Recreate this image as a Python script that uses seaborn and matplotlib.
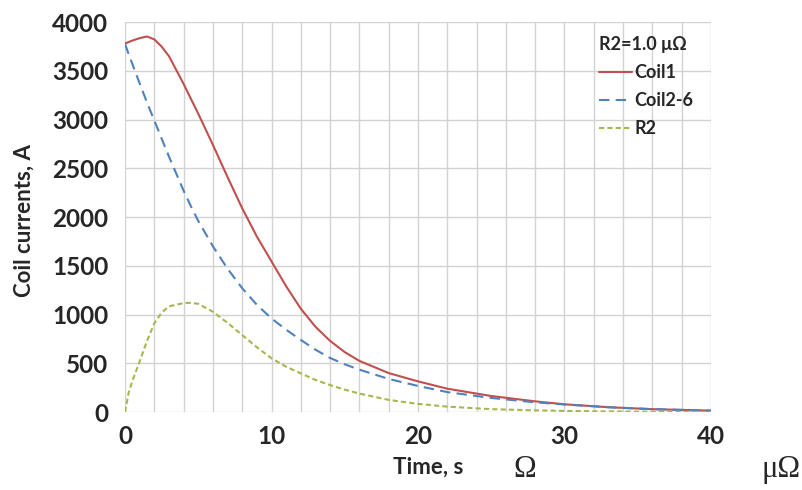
import numpy as np
import pandas as pd
import seaborn as sns
import matplotlib.pyplot as plt
from matplotlib.ticker import MultipleLocator

# values
time_s = [0, 0.25, 0.5, 1, 1.5, 2, 2.5, 3, 4, 4.5, 5, 6, 7, 8, 9, 10,
          11, 12, 13, 14, 15, 16, 18, 20, 22, 25, 28, 30, 33, 36, 40]
coil1 = [3780, 3795, 3810, 3835, 3852, 3822, 3748, 3650, 3365, 3212, 3060, 2740, 2410, 2090, 1800, 1545,
         1290, 1060, 875, 730, 615, 525, 400, 315, 240, 165, 110, 80, 50, 30, 15]
coil2_6 = [3775, 3670, 3570, 3370, 3175, 2990, 2805, 2620, 2270, 2110, 1960, 1700, 1470, 1270, 1100, 960,
           845, 740, 640, 555, 490, 435, 340, 268, 205, 145, 100, 78, 50, 30, 15]
r2 = [0, 200, 320, 520, 730, 910, 1020, 1085, 1118, 1121, 1110, 1029, 915, 790, 665, 551,
      465, 397, 330, 277, 230, 190, 125, 84, 56, 30, 18, 12, 7, 4, 2]

series_names = ['Coil1', 'Coil2-6', 'R2']
x_ticks = [0, 10, 20, 30, 40]
y_ticks = [0, 500, 1000, 1500, 2000, 2500, 3000, 3500, 4000]

sns.set_style('white')
plt.rcParams['font.family'] = ['Lato', 'DejaVu Sans']


def build_frame():
    frames = []
    for name, vals in zip(series_names, [coil1, coil2_6, r2]):
        frames.append(pd.DataFrame({'Time': time_s, 'Current': vals, 'Series': name}))
    return pd.concat(frames, ignore_index=True)


def main():
    data = build_frame()
    fig = plt.figure(figsize=(8.03, 4.9), dpi=100)
    ax = fig.add_axes([0.1557, 0.159, 0.7297, 0.796])

    palette = {'Coil1': '#c0504d', 'Coil2-6': '#4f81bd', 'R2': '#a3b94f'}
    dashes = {'Coil1': '', 'Coil2-6': (5, 3), 'R2': (2.5, 1.5)}
    sns.lineplot(data=data, x='Time', y='Current', hue='Series', style='Series',
                 palette=palette, dashes=dashes, linewidth=1.5, ax=ax)

    ax.set_xlim(0, 40)
    ax.set_ylim(0, 4000)
    ax.set_xticks(x_ticks)
    ax.set_yticks(y_ticks)
    ax.xaxis.set_minor_locator(MultipleLocator(2))
    ax.grid(True, which='both', axis='x', color='#d2d2d2', linewidth=1)
    ax.grid(True, which='major', axis='y', color='#d2d2d2', linewidth=1)
    ax.set_axisbelow(True)
    for s in ax.spines.values():
        s.set_visible(False)
    ax.tick_params(axis='both', which='both', length=0, labelsize=17.5, labelcolor='#262626')
    ax.tick_params(axis='x', pad=9)
    ax.tick_params(axis='y', pad=12)
    for lbl in ax.get_xticklabels() + ax.get_yticklabels():
        lbl.set_fontweight('bold')

    ax.set_xlabel('Time, s', fontsize=16, fontweight='bold', color='#262626')
    ax.set_ylabel('Coil currents, A', fontsize=16, fontweight='bold', color='#262626')
    ax.xaxis.set_label_coords(0.517, -0.115)
    ax.yaxis.set_label_coords(-0.155, 0.49)

    leg = ax.legend(title='R2=1.0 μΩ', loc='upper left', bbox_to_anchor=(0.782, 1.005),
                    frameon=False, fontsize=13, title_fontsize=13, handlelength=1.8,
                    handletextpad=0.15, labelspacing=0.6, alignment='left')
    leg.get_title().set_fontweight('bold')
    leg.get_title().set_color('#262626')
    for t in leg.get_texts():
        t.set_fontweight('bold')
        t.set_color('#262626')

    fig.text(0.654, 0.027, 'Ω', fontsize=22, family='Liberation Serif', ha='center', va='baseline')
    fig.text(0.973, 0.027, 'μΩ', fontsize=22, family='Liberation Serif', ha='center', va='baseline')

    fig.savefig('out.png', dpi=100)


if __name__ == '__main__':
    main()
